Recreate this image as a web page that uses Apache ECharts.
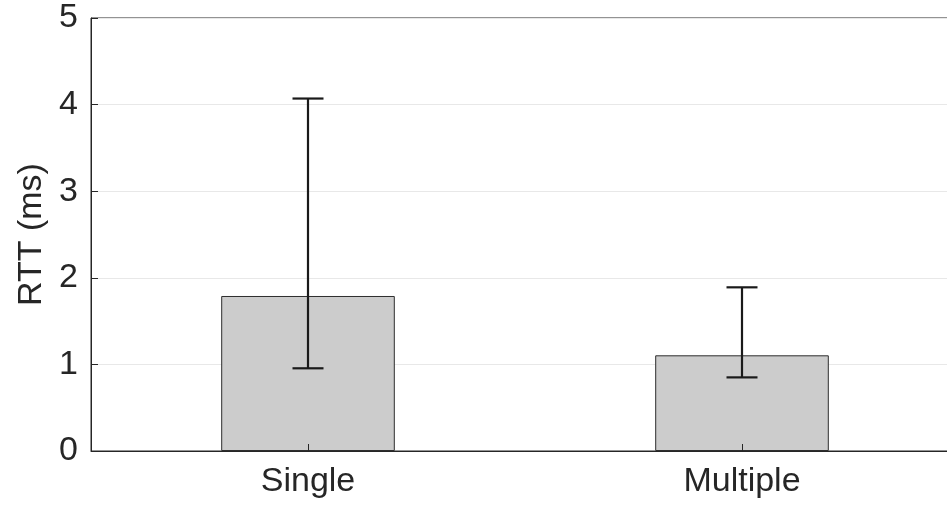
<!DOCTYPE html>
<html>
<head>
<meta charset="utf-8">
<script src="https://cdn.jsdelivr.net/npm/echarts@6/dist/echarts.min.js"></script>
<style>
html,body{margin:0;padding:0;background:#fff;overflow:hidden;width:947px;height:505px;}
#chart{width:959px;height:505px;}
</style>
</head>
<body>
<div id="chart"></div>
<script>
var categories = ['Single', 'Multiple'];
var meanValues = [1.79, 1.105];
var errLower = [0.955, 0.85];
var errUpper = [4.07, 1.89];
var yTicks = [0, 1, 2, 3, 4, 5];

var textColor = '#262626';
var fontFamily = '"Liberation Sans", Arial, Helvetica, sans-serif';

var errData = categories.map(function (c, i) { return [i, errLower[i], errUpper[i]]; });

var chart = echarts.init(document.getElementById('chart'), null, {renderer: 'canvas'});
chart.setOption({
  animation: false,
  backgroundColor: '#ffffff',
  grid: {
    left: 91, right: 0, top: 18, bottom: 54,
    show: true, borderColor: '#262626', borderWidth: 1, backgroundColor: 'transparent'
  },
  xAxis: {
    type: 'category',
    data: categories,
    z: 20,
    axisLine: {show: true, lineStyle: {color: '#262626', width: 1}},
    axisTick: {show: true, inside: true, alignWithLabel: true, length: 7, lineStyle: {color: '#262626'}},
    axisLabel: {color: textColor, fontSize: 34, fontFamily: fontFamily, margin: 14},
    splitLine: {show: false}
  },
  yAxis: {
    type: 'value',
    min: yTicks[0], max: yTicks[yTicks.length - 1], interval: 1,
    name: 'RTT (ms)',
    nameLocation: 'middle',
    nameGap: 40,
    nameTextStyle: {color: textColor, fontSize: 34, fontFamily: fontFamily},
    axisLine: {show: true, lineStyle: {color: '#262626', width: 1}},
    axisTick: {show: true, inside: true, length: 7, lineStyle: {color: '#262626'}},
    axisLabel: {color: textColor, fontSize: 34, fontFamily: fontFamily, margin: 13},
    splitLine: {show: true, lineStyle: {color: '#e8e8e8', width: 1}}
  },
  series: [
    {
      type: 'bar',
      data: meanValues,
      barWidth: '40%',
      itemStyle: {color: '#cccccc', borderColor: '#2e2e2e', borderWidth: 1}
    },
    {
      type: 'custom',
      data: errData,
      z: 10,
      renderItem: function (params, api) {
        var x = api.value(0);
        var lo = api.coord([x, api.value(1)]);
        var hi = api.coord([x, api.value(2)]);
        var half = 15.5;
        var style = {stroke: '#1a1a1a', lineWidth: 2.2, fill: null};
        return {
          type: 'group',
          children: [
            {type: 'line', shape: {x1: lo[0], y1: lo[1], x2: hi[0], y2: hi[1]}, style: style},
            {type: 'line', shape: {x1: lo[0] - half, y1: lo[1], x2: lo[0] + half, y2: lo[1]}, style: style},
            {type: 'line', shape: {x1: hi[0] - half, y1: hi[1], x2: hi[0] + half, y2: hi[1]}, style: style}
          ]
        };
      }
    }
  ]
});
</script>
</body>
</html>
